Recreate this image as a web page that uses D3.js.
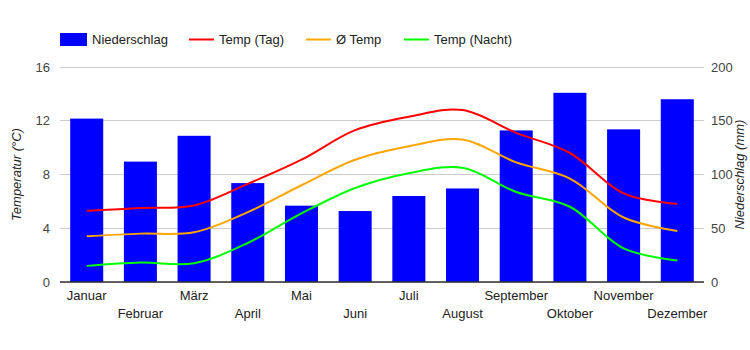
<!DOCTYPE html>
<html>
<head>
<meta charset="utf-8">
<script src="https://cdn.jsdelivr.net/npm/d3@7"></script>
<style>
  body { margin: 0; background: #fff; }
  svg { font-family: "Liberation Sans", Arial, sans-serif; }
</style>
</head>
<body>
<div id="chart"></div>
<script>
var months = ["Januar", "Februar", "März", "April", "Mai", "Juni", "Juli", "August", "September", "Oktober", "November", "Dezember"];
var precip = [152, 112, 136, 92, 71, 66, 80, 87, 141, 176, 142, 170];
var tempDay = [5.3, 5.5, 5.7, 7.3, 9.1, 11.3, 12.3, 12.8, 11.1, 9.6, 6.6, 5.8];
var tempAvg = [3.4, 3.6, 3.7, 5.2, 7.2, 9.1, 10.1, 10.6, 8.9, 7.7, 4.8, 3.8];
var tempNight = [1.2, 1.45, 1.4, 2.9, 5.1, 7.0, 8.1, 8.5, 6.7, 5.6, 2.5, 1.6];
var tempTicks = [0, 4, 8, 12, 16];
var precipTicks = [0, 50, 100, 150, 200];

var width = 750, height = 350;
var margin = { top: 67, right: 46, bottom: 68, left: 60 };
var innerW = width - margin.left - margin.right,
    innerH = height - margin.top - margin.bottom;

var svg = d3.select("#chart")
    .append("svg")
    .attr("width", width)
    .attr("height", height);

var g = svg.append("g")
    .attr("transform", "translate(" + margin.left + "," + margin.top + ")");

var x = d3.scaleBand().domain(months).range([0, innerW]).paddingInner(0.385).paddingOuter(0.19);
var yT = d3.scaleLinear().domain([0, 16]).range([innerH, 0]);
var yP = d3.scaleLinear().domain([0, 200]).range([innerH, 0]);

// gridlines
g.selectAll(".grid")
    .data(tempTicks)
    .enter()
    .append("line")
    .attr("x1", 0)
    .attr("x2", innerW)
    .attr("y1", function (d) { return yT(d); })
    .attr("y2", function (d) { return yT(d); })
    .attr("stroke", "#cccccc")
    .attr("stroke-width", 1)
    .attr("shape-rendering", "crispEdges");

// left axis labels
var left = g.append("g").call(d3.axisLeft(yT).tickValues(tempTicks).tickSize(0).tickPadding(10));
left.select(".domain").remove();
left.selectAll("text").style("font-size", "13px").attr("fill", "#444");

// right axis labels
var right = g.append("g")
    .attr("transform", "translate(" + innerW + ",0)")
    .call(d3.axisRight(yP).tickValues(precipTicks).tickSize(0).tickPadding(7));
right.select(".domain").remove();
right.selectAll("text").style("font-size", "13px").attr("fill", "#444");

// bars
g.selectAll(".bar")
    .data(precip)
    .enter()
    .append("rect")
    .attr("class", "bar")
    .attr("x", function (d, i) { return x(months[i]); })
    .attr("y", function (d) { return yP(d); })
    .attr("width", x.bandwidth())
    .attr("height", function (d) { return innerH - yP(d); })
    .attr("fill", "#0000ff");

// baseline
g.append("line")
    .attr("x1", 0).attr("x2", innerW)
    .attr("y1", innerH).attr("y2", innerH)
    .attr("stroke", "#333")
    .attr("stroke-width", 1.5);

// lines
var line = d3.line()
    .x(function (d, i) { return x(months[i]) + x.bandwidth() / 2; })
    .y(function (d) { return yT(d); })
    .curve(d3.curveCatmullRom.alpha(0.5));

[[tempDay, "#ff0000"], [tempAvg, "#ffa500"], [tempNight, "#00ff00"]].forEach(function (s) {
    g.append("path")
        .datum(s[0])
        .attr("d", line)
        .attr("fill", "none")
        .attr("stroke", s[1])
        .attr("stroke-width", 2);
});

// x labels, alternating rows
g.selectAll(".xlab")
    .data(months)
    .enter()
    .append("text")
    .attr("x", function (d) { return x(d) + x.bandwidth() / 2; })
    .attr("y", function (d, i) { return innerH + (i % 2 === 0 ? 18 : 36); })
    .attr("text-anchor", "middle")
    .style("font-size", "13px")
    .attr("fill", "#222")
    .text(function (d) { return d; });

// axis titles
svg.append("text")
    .attr("transform", "translate(21," + (margin.top + innerH / 2) + ")rotate(-90)")
    .attr("text-anchor", "middle")
    .style("font-size", "13px")
    .style("font-style", "italic")
    .attr("fill", "#222")
    .text("Temperatur (°C)");

svg.append("text")
    .attr("transform", "translate(744," + (margin.top + innerH / 2) + ")rotate(-90)")
    .attr("text-anchor", "middle")
    .style("font-size", "13px")
    .style("font-style", "italic")
    .attr("fill", "#222")
    .text("Niederschlag (mm)");

// legend
var legend = [
    { name: "Niederschlag", type: "rect", color: "#0000ff", x: 60 },
    { name: "Temp (Tag)", type: "line", color: "#ff0000", x: 189 },
    { name: "Ø Temp", type: "line", color: "#ffa500", x: 306 },
    { name: "Temp (Nacht)", type: "line", color: "#00ff00", x: 404 }
];
var lg = svg.append("g");
legend.forEach(function (d) {
    if (d.type === "rect") {
        lg.append("rect").attr("x", d.x).attr("y", 33).attr("width", 27).attr("height", 13).attr("fill", d.color);
    } else {
        lg.append("line").attr("x1", d.x).attr("x2", d.x + 25).attr("y1", 39.5).attr("y2", 39.5)
            .attr("stroke", d.color).attr("stroke-width", 2);
    }
    lg.append("text")
        .attr("x", d.x + (d.type === "rect" ? 32 : 30))
        .attr("y", 44)
        .style("font-size", "13px")
        .attr("fill", "#222")
        .text(d.name);
});
</script>
</body>
</html>
